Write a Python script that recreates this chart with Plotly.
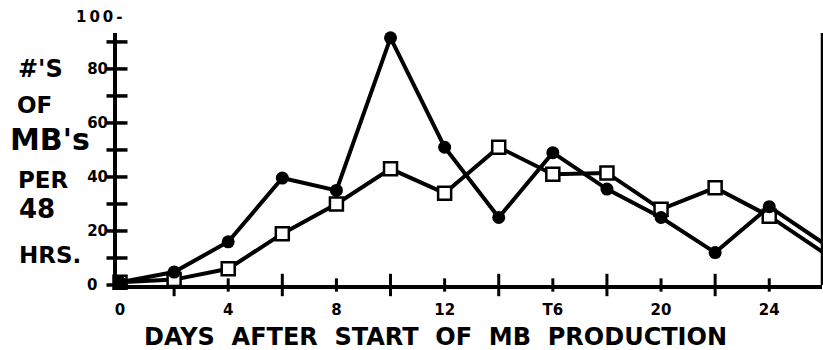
import plotly.graph_objects as go

# ---- data ----
days = [0, 2, 4, 6, 8, 10, 12, 14, 16, 18, 20, 22, 24, 26]
filled_series = [1, 4.8, 16, 39.6, 35, 91.5, 51, 25, 49, 35.5, 25, 12, 29, 15.5]
open_series = [1, 2, 6, 19, 30, 43, 34, 51, 41, 41.5, 28, 36, 25.5, 12]

x_tick_vals = [0, 4, 8, 12, 16, 20, 24]
x_tick_text = ["0", "4", "8", "12", "T6", "20", "24"]
y_tick_vals = [0, 20, 40, 60, 80]
y_tick_text = ["0\u00a0\u00a0", "20", "40", "60", "80"]
y_cross_ticks = [0, 10, 20, 30, 40, 50, 60, 70, 80, 90]
x_long_ticks = [2, 6, 10, 14, 18, 22]
x_short_ticks = [4, 8, 12, 16, 20, 24]

X_RANGE = [-0.111, 25.95]
Y_RANGE = [0, 93.3]

W, H = 823, 350
ML, MR, MT, MB = 117, 1, 33, 65
PW, PH = W - ML - MR, H - MT - MB


def px(x):
    return (x - ML) / PW


def py(y):
    return (H - MB - y) / PH


FONT = "DejaVu Sans"

fig = go.Figure()

# crossing tick marks on the y axis
fig.add_trace(go.Scatter(
    x=[X_RANGE[0]] * len(y_cross_ticks), y=y_cross_ticks, mode="markers",
    marker=dict(symbol="line-ew", size=15, line=dict(color="black", width=3.5)),
    hoverinfo="skip", showlegend=False, cliponaxis=False))
# crossing tick marks on the x axis
fig.add_trace(go.Scatter(
    x=x_long_ticks, y=[0] * len(x_long_ticks), mode="markers",
    marker=dict(symbol="line-ns", size=16, line=dict(color="black", width=3)),
    hoverinfo="skip", showlegend=False, cliponaxis=False))
fig.add_trace(go.Scatter(
    x=x_short_ticks, y=[0] * len(x_short_ticks), mode="markers",
    marker=dict(symbol="line-ns", size=9.5, line=dict(color="black", width=3)),
    hoverinfo="skip", showlegend=False, cliponaxis=False))

fig.add_trace(go.Scatter(
    x=days, y=open_series, mode="lines+markers",
    line=dict(color="black", width=4),
    marker=dict(symbol="square", size=13, color="white",
                line=dict(color="black", width=2.5)),
    showlegend=False, cliponaxis=False))
fig.add_trace(go.Scatter(
    x=days, y=filled_series, mode="lines+markers",
    line=dict(color="black", width=4),
    marker=dict(symbol="circle", size=13, color="black"),
    showlegend=False, cliponaxis=False))

fig.update_xaxes(
    range=X_RANGE, showline=True, linecolor="black", linewidth=4,
    showgrid=False, zeroline=False, ticks="",
    tickvals=x_tick_vals, ticktext=x_tick_text, ticklabelstandoff=8,
    tickfont=dict(family=FONT, size=15, color="black", weight="bold"))
fig.update_yaxes(
    range=Y_RANGE, showline=True, linecolor="black", linewidth=4,
    showgrid=False, zeroline=False, ticks="",
    tickvals=y_tick_vals, ticktext=y_tick_text, ticklabelstandoff=2,
    tickfont=dict(family=FONT, size=15, color="black", weight="bold"))

# right frame line
fig.add_shape(type="line", xref="paper", yref="paper", x0=1, x1=1, y0=0, y1=1,
              line=dict(color="black", width=2.5))

ann = []
# "100-" label above the axis end
ann.append(dict(text="1\u20090\u20090\u2009-", xref="paper", yref="paper",
                x=px(125), y=py(17), xanchor="right", yanchor="middle",
                showarrow=False,
                font=dict(family=FONT, size=15, color="black", weight="bold")))
# stacked y-axis title
left_labels = [
    ("#'S", 40, 68.5, 24),
    ("OF", 34.5, 104.5, 23),
    ("MB's", 50, 139, 30),
    ("PER", 43.5, 180.5, 23),
    ("48", 36.5, 209, 26),
    ("HRS.", 50, 254.5, 23),
]
for t, cx, cy, s in left_labels:
    ann.append(dict(text=t, xref="paper", yref="paper", x=px(cx), y=py(cy),
                    xanchor="center", yanchor="middle", showarrow=False,
                    font=dict(family=FONT, size=s, color="black", weight="bold")))
# x-axis title
ann.append(dict(text="DAYS\u00a0\u00a0AFTER\u00a0\u00a0START\u00a0\u00a0OF\u00a0\u00a0MB\u00a0\u00a0PRODUCTION",
                xref="paper", yref="paper", x=px(142), y=py(337),
                xanchor="left", yanchor="middle", showarrow=False,
                font=dict(family=FONT, size=24, color="black", weight="bold")))

fig.update_layout(
    width=W, height=H, margin=dict(l=ML, r=MR, t=MT, b=MB),
    paper_bgcolor="white", plot_bgcolor="white",
    annotations=ann, showlegend=False)

fig.write_html("out.html",
               config={"displayModeBar": False},
               post_script="document.body.style.margin='0px';"
                           "document.body.style.overflow='hidden';")
